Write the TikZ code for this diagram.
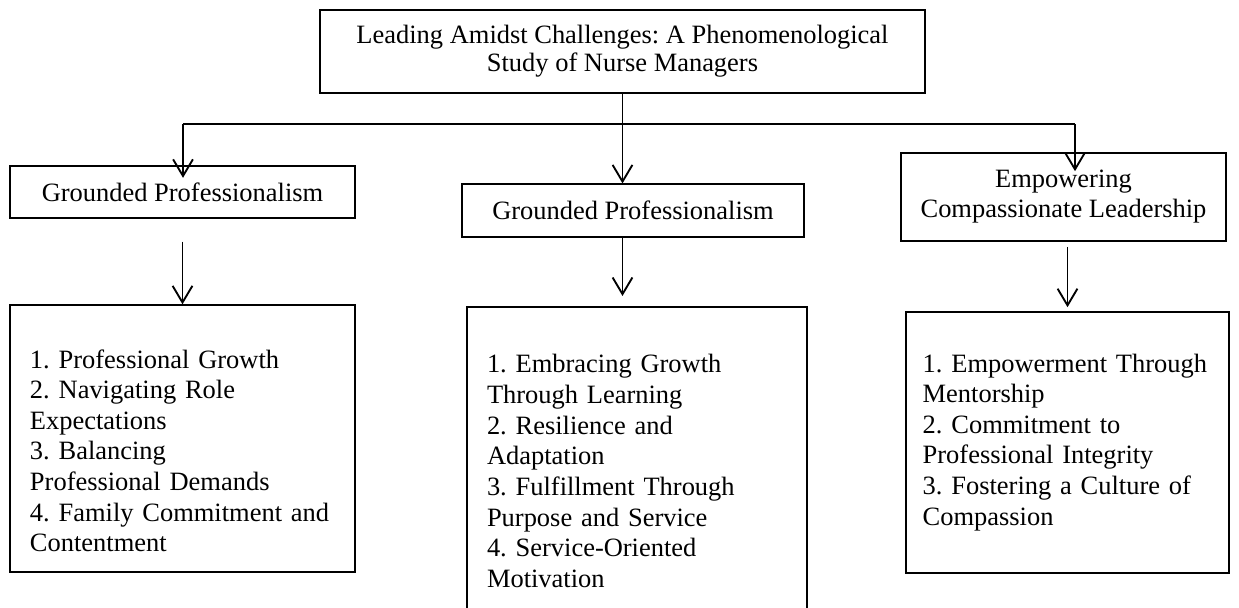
\documentclass[tikz,border=0pt]{standalone}
\usepackage{fontspec}
\setmainfont{Liberation Serif}
\usetikzlibrary{arrows.meta}
\frenchspacing

\begin{document}
\begin{tikzpicture}[x=0.48pt, y=-0.48pt]

\tikzset{box/.style = {draw, line width=0.6pt, align=center, font=\fontsize{12.7}{14.4}\selectfont}}
\tikzset{list/.style = {draw, line width=0.6pt, align=left, inner xsep=9.6pt, inner ysep=0pt, font=\fontsize{12.7}{14.7}\selectfont}}
\tikzset{edge/.style = {->, > = {Straight Barb[length=8pt,width=9.5pt]}, line width=0.9pt}}
\useasboundingbox (0,0) rectangle (1239,607);
\clip (0,0) rectangle (1239,607);
%nodes
\node[box, minimum width=290.4pt, minimum height=39.8pt, font=\fontsize{12.7}{13.6}\selectfont] (0) at (622.5,51.5) {Leading Amidst Challenges: A Phenomenological\\Study of Nurse Managers};
\node[box, minimum width=165.6pt, minimum height=25pt] (1) at (182.5,192) {Grounded Professionalism};
\node[box, minimum width=164.2pt, minimum height=25.4pt] (2) at (633,210.5) {Grounded Professionalism};
\node[box, minimum width=156pt, minimum height=42.2pt] (3) at (1063.5,197) {Empowering\\Compassionate Leadership};
\node[list, text width=146.4pt, minimum height=128.2pt] (4) at (182.5,438.5) {\strut\\1. Professional Growth\\2. Navigating Role\\Expectations\\3. Balancing\\Professional Demands\\4. Family Commitment and\\Contentment\strut};
\node[list, text width=144pt, minimum height=160.3pt] (5) at (637,474) {\strut\\1. Embracing Growth\\Through Learning\\2. Resilience and\\Adaptation\\3. Fulfillment Through\\Purpose and Service\\4. Service-Oriented\\Motivation\\\strut};
\node[list, text width=139pt, inner xsep=8pt, minimum height=125.3pt] (6) at (1067.5,442.5) {\strut\\1. Empowerment Through\\Mentorship\\2. Commitment to\\Professional Integrity\\3. Fostering a Culture of\\Compassion\\\strut};
\coordinate (l) at (183,124);
\coordinate (r) at (1075,124);
%edges
\draw [line width=0.9pt] (l) -- (r);
\draw [edge] (0) -- (0 |- 2.north);
\draw [edge, shorten >=-6pt] (l) -- (l |- 1.north);
\draw [edge, shorten >=-9pt] (r) -- (r |- 3.north);
\draw [edge, shorten <=11pt] (1) -- (4);
\draw [edge, shorten >=5pt] (2.south -| 0.south) -- (0.south |- 5.north);
\draw [edge, shorten <=2.5pt, shorten >=2pt] (3.south -| 6.north) -- (6.north);

\end{tikzpicture}
\end{document}
